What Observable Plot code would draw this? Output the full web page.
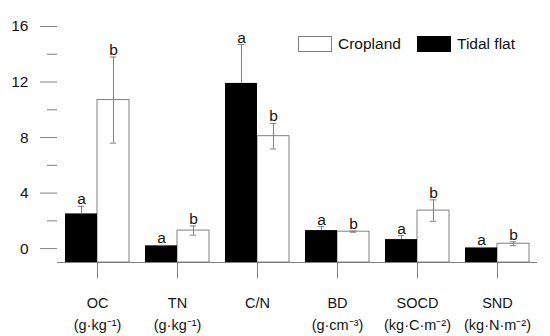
<!DOCTYPE html>
<html><head><meta charset="utf-8">
<script src="https://cdn.jsdelivr.net/npm/d3@7"></script>
<script src="https://cdn.jsdelivr.net/npm/@observablehq/plot@0.6"></script>
<style>
html,body{margin:0;padding:0;background:#fff;}
#wrap{position:relative;width:550px;height:336px;font-family:"Liberation Sans",Arial,sans-serif;}
.lg-box{position:absolute;top:36px;width:34px;height:16px;box-sizing:border-box;}
.lg-text{position:absolute;top:36px;font-size:15.5px;line-height:16px;color:#111;white-space:nowrap;}
</style></head><body>
<div id="wrap"></div>
<script>
// ---- data ----
const categories = ["OC", "TN", "C/N", "BD", "SOCD", "SND"];
const units = ["(g·kg⁻¹)", "(g·kg⁻¹)", "", "(g·cm⁻³)", "(kg·C·m⁻²)", "(kg·N·m⁻²)"];
const seriesNames = ["Tidal flat", "Cropland"];
const tidalMean = [2.5, 0.2, 11.9, 1.3, 0.65, 0.05];
const tidalSE = [0.55, 0.04, 2.8, 0.28, 0.28, 0.04];
const cropMean = [10.7, 1.3, 8.1, 1.22, 2.74, 0.35];
const cropSE = [3.1, 0.33, 0.92, 0.04, 0.77, 0.14];
const tidalLetters = ["a", "a", "a", "a", "a", "a"];
const cropLetters = ["b", "b", "b", "b", "b", "b"];
const yMajorTicks = [0, 4, 8, 12, 16];
const yMinorTicks = [2, 6, 10, 14];
const yDomain = [-1, 16];

// ---- layout / style ----
const W = 550, H = 336, ML = 55, MR = 11, MT = 26, MB = 74;
const PO = 0.24;
const facetW = (W - ML - MR) / categories.length;
const barW = facetW / (2 + 2 * PO);
const capW = 7;
const capInset = (barW - capW) / 2;
const gray = "#808080";
const textColor = "#141414";

const rows = [];
categories.forEach((c, i) => {
  rows.push({cat: c, series: seriesNames[0], mean: tidalMean[i], se: tidalSE[i], letter: tidalLetters[i]});
  rows.push({cat: c, series: seriesNames[1], mean: cropMean[i], se: cropSE[i], letter: cropLetters[i]});
});
const tidal = rows.filter(d => d.series === seriesNames[0]);
const crop = rows.filter(d => d.series === seriesNames[1]);
const hi = d => d.mean + d.se;
const lo = d => d.series === seriesNames[0] ? d.mean : d.mean - d.se;

const chart = Plot.plot({
  width: W, height: H,
  marginLeft: ML, marginRight: MR, marginTop: MT, marginBottom: MB,
  style: {fontFamily: '"Liberation Sans", Arial, sans-serif', background: "white", color: textColor},
  fx: {domain: categories, padding: 0, label: null},
  x: {domain: seriesNames, paddingInner: 0, paddingOuter: PO, axis: null, label: null},
  y: {domain: yDomain, label: null},
  marks: [
    Plot.barY(crop, {fx: "cat", x: "series", y1: yDomain[0], y2: "mean", fill: "white", stroke: gray, strokeWidth: 1}),
    Plot.barY(tidal, {fx: "cat", x: "series", y1: yDomain[0], y2: "mean", fill: "black"}),
    Plot.ruleX(rows, {fx: "cat", x: "series", y1: lo, y2: hi, stroke: gray}),
    Plot.tickY(rows, {fx: "cat", x: "series", y: hi, stroke: gray, insetLeft: capInset, insetRight: capInset}),
    Plot.tickY(crop, {fx: "cat", x: "series", y: d => d.mean - d.se, stroke: gray, insetLeft: capInset, insetRight: capInset}),
    Plot.text(rows, {fx: "cat", x: "series", y: hi, text: "letter", lineAnchor: "bottom", dy: -2, fontSize: 15.5, fill: textColor}),
    // axis lines
    Plot.ruleY([yDomain[0]], {stroke: gray}),
    Plot.ruleX([categories[0]], {fx: d => d, y1: yDomain[0], y2: yDomain[1], dx: -facetW / 2, stroke: gray}),
    // short boundary ticks on x axis
    Plot.ruleX(categories, {fx: d => d, y1: yDomain[0], y2: yDomain[0], insetBottom: -8, dx: -facetW / 2, stroke: gray}),
    Plot.ruleX(categories.slice(-1), {fx: d => d, y1: yDomain[0], y2: yDomain[0], insetBottom: -8, dx: facetW / 2, stroke: gray}),
    // category axis
    Plot.axisFx({anchor: "bottom", tickSize: 16, stroke: gray, tickFormat: () => "", label: null}),
    Plot.axisFx({anchor: "bottom", tickSize: 0, tickPadding: 30, fontSize: 14.5, lineHeight: 1.52, fill: textColor, label: null,
      tickFormat: d => { const u = units[categories.indexOf(d)]; return u ? d + "\n" + u : d; }}),
    // y axis
    Plot.axisY({ticks: yMajorTicks, tickSize: 17, tickPadding: 12, fontSize: 15.5, stroke: gray, fill: textColor, label: null}),
    Plot.axisY({ticks: yMinorTicks, tickSize: 10, stroke: gray, tickFormat: () => "", label: null})
  ]
});

const wrap = document.getElementById("wrap");
wrap.appendChild(chart);

// legend (overlaid top-right, as in reference)
const legendItems = [
  {name: seriesNames[1], fill: "white", border: gray, boxLeft: 298, textLeft: 338},
  {name: seriesNames[0], fill: "black", border: "black", boxLeft: 417, textLeft: 457}
];
legendItems.forEach(it => {
  const b = document.createElement("div");
  b.className = "lg-box";
  b.style.left = it.boxLeft + "px";
  b.style.background = it.fill;
  b.style.border = "1px solid " + it.border;
  wrap.appendChild(b);
  const t = document.createElement("div");
  t.className = "lg-text";
  t.style.left = it.textLeft + "px";
  t.textContent = it.name;
  wrap.appendChild(t);
});
</script>
</body></html>
